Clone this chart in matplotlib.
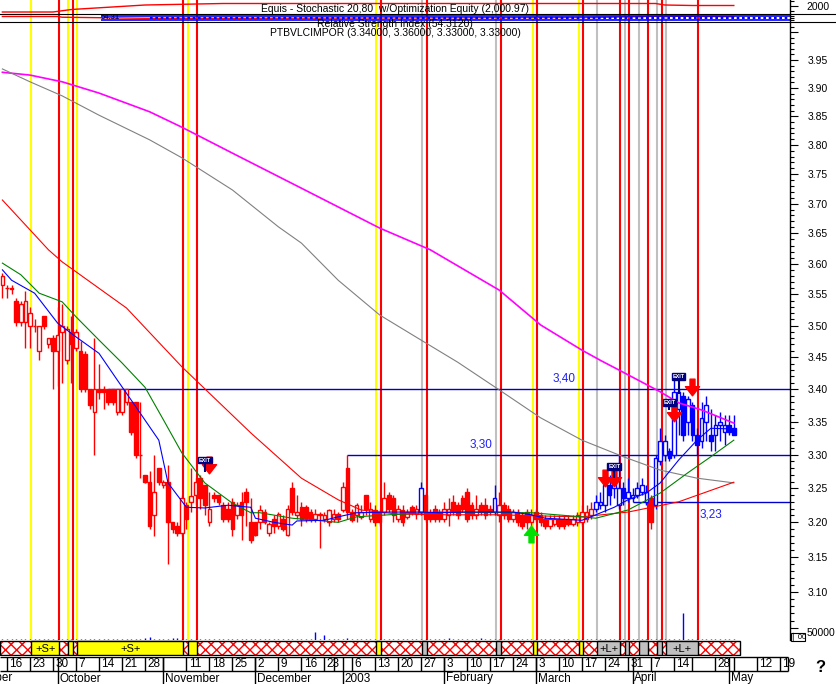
import numpy as np
import pandas as pd
import matplotlib
matplotlib.use('Agg')
import matplotlib.pyplot as plt
from matplotlib.patches import Rectangle
from matplotlib.path import Path
from matplotlib.lines import Line2D
from matplotlib.ticker import NullFormatter

plt.rcParams['font.family'] = ['Liberation Sans', 'DejaVu Sans']
plt.rcParams['hatch.linewidth'] = 1.0
plt.rcParams['hatch.color'] = '#ff0000'

# trading calendar (Lisbon closures)
holidays = ['2002-11-01', '2002-12-24', '2002-12-25', '2002-12-26',
            '2003-01-01', '2003-04-18', '2003-05-01']
dates = pd.bdate_range('2002-09-13', '2003-05-30', freq='C', holidays=holidays)

# daily OHLC, PTBVLCIMPOR
opens = [3.565, 3.560, 3.560, 3.540, 3.505, 3.505, 3.500, 3.500, 3.460, 3.515,
         3.470, 3.480, 3.460, 3.490, 3.445, 3.490, 3.465, 3.460, 3.455, 3.400,
         3.365, 3.400, 3.400, 3.400, 3.400, 3.365, 3.365, 3.380, 3.380, 3.380,
         3.300, 3.270, 3.260, 3.210, 3.280, 3.255, 3.260, 3.200, 3.195, 3.185,
         3.225, 3.230, 3.240, 3.265, 3.255, 3.200, 3.240, 3.240, 3.225, 3.220,
         3.230, 3.210, 3.230, 3.245, 3.200, 3.200, 3.200, 3.215, 3.185, 3.205,
         3.195, 3.205, 3.182, 3.250, 3.210, 3.222, 3.222, 3.215, 3.205, 3.212,
         3.205, 3.200, 3.205, 3.212, 3.218, 3.280, 3.215, 3.210, 3.208, 3.240,
         3.205, 3.218, 3.215, 3.215, 3.240, 3.235, 3.205, 3.218, 3.208, 3.222,
         3.212, 3.215, 3.240, 3.215, 3.220, 3.215, 3.205, 3.210, 3.230, 3.225,
         3.235, 3.245, 3.225, 3.210, 3.225, 3.225, 3.220, 3.215, 3.210, 3.225,
         3.220, 3.205, 3.215, 3.210, 3.215, 3.200, 3.215, 3.210, 3.205, 3.195,
         3.198, 3.205, 3.205, 3.205, 3.198, 3.200, 3.200, 3.205, 3.210, 3.220,
         3.225, 3.225, 3.255, 3.250, 3.225, 3.250, 3.235, 3.235, 3.240, 3.245,
         3.230, 3.235, 3.225, 3.290, 3.300, 3.305, 3.300, 3.370, 3.390, 3.350,
         3.375, 3.330, 3.320, 3.350, 3.330, 3.330, 3.345, 3.335, 3.345, 3.340]
highs = [3.585, 3.565, 3.565, 3.545, 3.540, 3.555, 3.530, 3.510, 3.500, 3.515,
         3.480, 3.485, 3.530, 3.535, 3.500, 3.515, 3.495, 3.475, 3.460, 3.400,
         3.480, 3.440, 3.405, 3.400, 3.400, 3.400, 3.400, 3.400, 3.380, 3.380,
         3.380, 3.270, 3.275, 3.300, 3.280, 3.262, 3.285, 3.200, 3.200, 3.240,
         3.230, 3.280, 3.265, 3.270, 3.255, 3.245, 3.245, 3.240, 3.230, 3.230,
         3.235, 3.230, 3.245, 3.250, 3.235, 3.200, 3.225, 3.220, 3.200, 3.210,
         3.215, 3.210, 3.225, 3.260, 3.240, 3.230, 3.225, 3.220, 3.220, 3.215,
         3.215, 3.220, 3.220, 3.215, 3.260, 3.300, 3.220, 3.228, 3.225, 3.240,
         3.230, 3.225, 3.220, 3.260, 3.245, 3.240, 3.225, 3.225, 3.220, 3.225,
         3.225, 3.260, 3.245, 3.220, 3.225, 3.220, 3.230, 3.235, 3.240, 3.230,
         3.240, 3.250, 3.230, 3.240, 3.230, 3.235, 3.225, 3.255, 3.245, 3.230,
         3.225, 3.220, 3.220, 3.215, 3.220, 3.220, 3.220, 3.215, 3.210, 3.210,
         3.210, 3.210, 3.210, 3.210, 3.210, 3.215, 3.225, 3.225, 3.230, 3.240,
         3.245, 3.265, 3.270, 3.285, 3.300, 3.260, 3.265, 3.250, 3.260, 3.265,
         3.255, 3.240, 3.300, 3.340, 3.330, 3.310, 3.415, 3.400, 3.395, 3.390,
         3.380, 3.340, 3.380, 3.390, 3.370, 3.360, 3.365, 3.360, 3.360, 3.360]
lows = [3.545, 3.545, 3.550, 3.500, 3.500, 3.465, 3.465, 3.490, 3.445, 3.495,
        3.465, 3.400, 3.405, 3.410, 3.440, 3.410, 3.460, 3.395, 3.395, 3.370,
        3.300, 3.385, 3.370, 3.375, 3.375, 3.360, 3.360, 3.375, 3.330, 3.295,
        3.265, 3.258, 3.190, 3.180, 3.255, 3.250, 3.140, 3.185, 3.180, 3.180,
        3.190, 3.215, 3.225, 3.220, 3.210, 3.195, 3.230, 3.225, 3.200, 3.200,
        3.180, 3.205, 3.175, 3.195, 3.170, 3.180, 3.190, 3.198, 3.180, 3.185,
        3.190, 3.188, 3.180, 3.210, 3.205, 3.195, 3.200, 3.200, 3.200, 3.163,
        3.200, 3.195, 3.200, 3.200, 3.215, 3.205, 3.200, 3.200, 3.205, 3.210,
        3.200, 3.195, 3.195, 3.210, 3.215, 3.200, 3.200, 3.195, 3.205, 3.210,
        3.205, 3.210, 3.200, 3.200, 3.200, 3.200, 3.200, 3.195, 3.210, 3.205,
        3.215, 3.200, 3.205, 3.205, 3.210, 3.205, 3.210, 3.210, 3.200, 3.205,
        3.200, 3.200, 3.195, 3.190, 3.190, 3.195, 3.200, 3.195, 3.190, 3.190,
        3.195, 3.190, 3.190, 3.195, 3.195, 3.195, 3.195, 3.200, 3.205, 3.215,
        3.220, 3.215, 3.225, 3.235, 3.220, 3.225, 3.230, 3.230, 3.235, 3.240,
        3.225, 3.190, 3.220, 3.285, 3.290, 3.290, 3.295, 3.330, 3.320, 3.330,
        3.320, 3.300, 3.310, 3.320, 3.305, 3.305, 3.320, 3.315, 3.330, 3.330]
closes = [3.580, 3.560, 3.558, 3.505, 3.535, 3.540, 3.520, 3.500, 3.500, 3.500,
          3.480, 3.460, 3.485, 3.500, 3.495, 3.470, 3.490, 3.400, 3.400, 3.375,
          3.400, 3.395, 3.395, 3.380, 3.380, 3.400, 3.400, 3.400, 3.335, 3.300,
          3.300, 3.260, 3.195, 3.245, 3.260, 3.260, 3.200, 3.190, 3.185, 3.235,
          3.205, 3.238, 3.260, 3.235, 3.225, 3.220, 3.235, 3.230, 3.205, 3.205,
          3.190, 3.225, 3.210, 3.230, 3.175, 3.182, 3.218, 3.200, 3.198, 3.195,
          3.212, 3.190, 3.220, 3.215, 3.215, 3.205, 3.207, 3.205, 3.212, 3.210,
          3.210, 3.218, 3.212, 3.205, 3.252, 3.215, 3.203, 3.225, 3.215, 3.220,
          3.220, 3.200, 3.200, 3.235, 3.220, 3.210, 3.220, 3.200, 3.215, 3.215,
          3.220, 3.250, 3.205, 3.205, 3.205, 3.205, 3.220, 3.220, 3.215, 3.210,
          3.220, 3.205, 3.210, 3.220, 3.215, 3.210, 3.215, 3.235, 3.225, 3.210,
          3.205, 3.215, 3.200, 3.195, 3.200, 3.210, 3.205, 3.200, 3.195, 3.205,
          3.205, 3.195, 3.195, 3.198, 3.205, 3.210, 3.215, 3.215, 3.220, 3.230,
          3.230, 3.255, 3.240, 3.260, 3.250, 3.235, 3.245, 3.240, 3.250, 3.255,
          3.245, 3.200, 3.295, 3.320, 3.320, 3.295, 3.395, 3.395, 3.330, 3.385,
          3.330, 3.315, 3.355, 3.375, 3.320, 3.345, 3.350, 3.345, 3.335, 3.330]
volume_k = [5, 4, 6, 5, 7, 5, 4, 6, 5, 4, 6, 5, 5, 8, 4, 5, 6, 5, 4, 6,
            5, 4, 6, 5, 4, 5, 6, 4, 5, 6, 5, 10, 18, 6, 5, 4, 6, 10, 10, 5,
            6, 5, 4, 6, 5, 4, 6, 5, 4, 5, 4, 6, 5, 4, 5, 6, 5, 4, 6, 5,
            5, 4, 6, 5, 4, 5, 6, 5, 50, 6, 30, 5, 4, 6, 8, 12, 5, 4, 6, 5,
            4, 5, 6, 5, 4, 5, 6, 8, 5, 4, 6, 7, 5, 4, 6, 5, 4, 12, 5, 6,
            5, 4, 6, 5, 12, 4, 5, 8, 6, 5, 4, 6, 5, 4, 5, 6, 4, 5, 6, 5,
            4, 5, 6, 4, 5, 6, 5, 6, 5, 7, 6, 8, 7, 6, 9, 5, 6, 7, 6, 5,
            6, 7, 6, 8, 7, 6, 9, 8, 170, 7, 6, 7, 5, 6, 5, 6, 5, 6, 5, 6]

# moving averages (bar index, value)
ma_fast_idx = [0, 2, 7, 12, 16, 21, 25, 29, 34, 36, 40, 44, 49, 54, 55, 59, 63, 64, 70,
               73, 77, 84, 91, 95, 100, 111, 115, 118, 126, 129, 133, 136, 140, 143,
               147, 151, 154, 159]
ma_fast = [3.590, 3.573, 3.552, 3.504, 3.482, 3.456, 3.414, 3.373, 3.322, 3.258,
           3.222, 3.221, 3.225, 3.222, 3.206, 3.200, 3.196, 3.202, 3.203, 3.208,
           3.214, 3.215, 3.215, 3.214, 3.215, 3.215, 3.211, 3.206, 3.203, 3.211,
           3.222, 3.233, 3.243, 3.258, 3.292, 3.322, 3.340, 3.339]
ma_mid_idx = [0, 4, 8, 13, 16, 21, 26, 31, 35, 39, 44, 50, 54, 56, 63, 73, 77, 84,
              95, 115, 126, 129, 136, 143, 149, 154, 159]
ma_mid = [3.601, 3.582, 3.552, 3.538, 3.514, 3.477, 3.441, 3.403, 3.353, 3.303,
          3.258, 3.228, 3.214, 3.214, 3.206, 3.200, 3.208, 3.211, 3.215, 3.214,
          3.208, 3.206, 3.218, 3.243, 3.273, 3.297, 3.322]
ma_slow_idx = [0, 6, 10, 13, 27, 39, 54, 65, 73, 78, 86, 97, 108, 119, 126, 136, 147, 159]
ma_slow = [3.706, 3.656, 3.623, 3.603, 3.528, 3.435, 3.333, 3.265, 3.233, 3.218,
           3.212, 3.211, 3.211, 3.209, 3.208, 3.215, 3.230, 3.259]
ma_100_idx = [0, 6, 13, 21, 32, 39, 50, 60, 65, 73, 82, 91, 99, 108, 117, 126, 135,
              143, 151, 159]
ma_100 = [3.934, 3.911, 3.886, 3.852, 3.809, 3.778, 3.723, 3.661, 3.634, 3.573,
          3.517, 3.477, 3.442, 3.399, 3.356, 3.322, 3.297, 3.277, 3.265, 3.258]
ma_200_idx = [0, 6, 13, 21, 32, 39, 50, 65, 82, 93, 108, 117, 126, 130, 134, 143,
              147, 152, 159]
ma_200 = [3.928, 3.923, 3.911, 3.891, 3.858, 3.831, 3.786, 3.726, 3.659, 3.623,
          3.557, 3.501, 3.461, 3.445, 3.430, 3.396, 3.379, 3.368, 3.348]

# system equity and RSI panels
eq_idx = [0, 11, 15, 31, 48, 142, 144, 150, 159]
equity = [1988, 1988, 1993, 2002, 2005, 2005, 2002, 2001, 2001]
rsi_idx = [0, 12, 13, 31, 56, 100, 128, 145, 159]
rsi = [62, 62, 55, 45, 45, 50, 52, 66, 60]

# trades: (entry bar, exit bar)
short_trades = [(6, 12), (14, 15), (16, 39), (40, 42), (81, 82), (115, 116), (125, 126)]
long_trades = [(91, 92), (107, 108), (129, 134), (135, 136), (138, 140), (142, 143), (144, 151)]
blue_spans = [(91, 91), (107, 107), (129, 140), (142, 159)]

# horizontal levels
levels = [3.40, 3.30, 3.23]
level_start = [23, 75, 137]
level_text = ['3,40', '3,30', '3,23']

# signal arrows / exit flags
sell_idx = [45, 131, 133, 146, 150]
sell_px = [3.285, 3.266, 3.266, 3.363, 3.404]
buy_idx = [115]
buy_px = [3.183]
exit_idx = [44, 133, 145, 147]
exit_px = [3.292, 3.282, 3.379, 3.420]
exit_stem = [3.274, 3.266, 3.368, 3.392]

# date axis
week_labels = ['16', '23', '30', '7', '14', '21', '28', '', '11', '18', '25', '2', '9',
               '16', '23', '', '6', '13', '20', '27', '3', '10', '17', '24', '3', '10',
               '17', '24', '31', '7', '14', '', '28', '', '12', '19']
month_names = ['October', 'November', 'December', '2003', 'February', 'March', 'April', 'May']

# ---------------------------------------------------------------- layout
W, H = 837, 684
X0, DX = 2.4, 4.6


def bx(px):
    return (px - X0) / DX


XMIN, XMAX = bx(0), bx(790)


def rect(x0, y0, x1, y1):
    return [x0 / W, 1 - y1 / H, (x1 - x0) / W, (y1 - y0) / H]


fig = plt.figure(figsize=(W / 100, H / 100), dpi=100)
fig.patch.set_facecolor('white')

ax_eq = fig.add_axes(rect(0, 0, 790, 13.5))
ax_rsi = fig.add_axes(rect(0, 13.5, 790, 22))
ax = fig.add_axes(rect(0, 22, 790, 640))
ax_b = fig.add_axes(rect(0, 640, 790, 656))
ax_d = fig.add_axes(rect(0, 656, 790, 684))

for a in (ax_eq, ax_rsi, ax, ax_b, ax_d):
    a.set_xlim(XMIN, XMAX)
    a.set_xticks([])
    for s in a.spines.values():
        s.set_visible(False)
    a.patch.set_alpha(0)

# volume overlay (created first: twinx moves the host ticks to the left)
ax.set_yscale('log')
ax.set_ylim(3.033, 4.019)
axv = ax.twinx()
axv.set_xlim(XMIN, XMAX)
axv.set_ylim(0, 50000 * 618 / 8)
idx = np.arange(len(closes))
axv.vlines(idx, 0, np.array(volume_k) * 1000, colors='#0000ff', lw=1, zorder=2)
axv.set_axis_off()

# signal verticals through the three upper panels
RED, YEL, GRY, BLU = '#ff0000', '#ffff00', '#c0c0c0', '#0000ff'
for a in (ax_eq, ax_rsi, ax):
    for en, ex in short_trades:
        a.axvline(en + 0.3, color=YEL, lw=1.5, zorder=1)
    for en, ex in long_trades:
        a.axvline(en + 0.3, color=GRY, lw=1.5, zorder=1)
    for en, ex in short_trades + long_trades:
        a.axvline(ex + 0.3, color=RED, lw=1.5, zorder=1)

# equity panel
ax_eq.set_ylim(1985, 2012)
ax_eq.plot(eq_idx, equity, color=RED, lw=1, zorder=3)
ax_eq.yaxis.tick_right()
ax_eq.set_yticks([2000], ['2000'])
ax_eq.set_yticks([1990, 2010], minor=True)
ax_eq.tick_params(axis='y', which='major', length=6, width=0.8, pad=6, labelsize=7.5)
ax_eq.tick_params(axis='y', which='minor', length=3, width=0.8)

# RSI panel
ax_rsi.set_ylim(10, 90)
ax_rsi.plot(rsi_idx, rsi, color=RED, lw=1, zorder=2)
ax_rsi.hlines([70, 30], bx(101), XMAX, color=BLU, lw=1.2, zorder=3)
ax_rsi.hlines([50], bx(150), XMAX, color=BLU, lw=1.6, linestyles=[(0, (1.2, 1.2))], zorder=3)
ax_rsi.text(bx(101), 50, '54.31', fontsize=5.5, fontweight='bold', color='#000080',
            va='center', ha='left', zorder=4)
ax_rsi.yaxis.tick_right()
ax_rsi.set_yticks([])
ax_rsi.set_yticks([30, 50, 70], minor=True)
ax_rsi.tick_params(axis='y', which='minor', length=3, width=0.8)

# main price panel (semi-log)
o, hi, lo, c = map(np.array, (opens, highs, lows, closes))
blue = np.zeros(len(idx), bool)
for a0, a1 in blue_spans:
    blue[a0:a1 + 1] = True
col = np.where(blue, BLU, RED)
face = np.where(c >= o, 'white', col)

for lv, st in zip(levels, level_start):
    ax.hlines(lv, st, XMAX, color='#0000cc', lw=1, zorder=2)
ax.text(122, levels[0] * 1.002, level_text[0], color='#2020ff', fontsize=8.5, ha='center', va='bottom', zorder=7)
ax.text(104, levels[1] * 1.002, level_text[1], color='#2020ff', fontsize=8.5, ha='center', va='bottom', zorder=7)
ax.text(154, levels[2] * 0.997, level_text[2], color='#2020ff', fontsize=8.5, ha='center', va='top', zorder=7)

ax.vlines(idx, lo, hi, colors=col, lw=1.0, zorder=3)
ax.bar(idx, np.abs(c - o), bottom=np.minimum(o, c), width=0.78, color=face,
       edgecolor=col, linewidth=1.0, zorder=4)

ax.plot(ma_200_idx, ma_200, color='#ff00ff', lw=1.2, zorder=5)
ax.plot(ma_100_idx, ma_100, color='#808080', lw=0.8, zorder=5)
ax.plot(ma_slow_idx, ma_slow, color=RED, lw=0.8, zorder=5)
ax.plot(ma_mid_idx, ma_mid, color='#008000', lw=0.8, zorder=5)
ax.plot(ma_fast_idx, ma_fast, color=BLU, lw=0.8, zorder=5)

# arrows and exit flags
down_arrow = Path([(-0.3, 1), (0.3, 1), (0.3, 0.1), (0.85, 0.1), (0, -1),
                   (-0.85, 0.1), (-0.3, 0.1), (-0.3, 1)], closed=True)
up_arrow = Path([(x, -y) for x, y in down_arrow.vertices], closed=True)
ax.plot(sell_idx, sell_px, ls='none', marker=down_arrow, ms=12, color=RED, zorder=6)
ax.plot(buy_idx, buy_px, ls='none', marker=up_arrow, ms=12, color='#00e000', zorder=6)
ax.vlines(exit_idx, exit_stem, exit_px, color='#000080', lw=1.5, zorder=6)
for i, p in zip(exit_idx, exit_px):
    ax.text(i, p, 'EXIT', fontsize=4, color='white', fontweight='bold', ha='center',
            va='center', zorder=7,
            bbox=dict(boxstyle='square,pad=0.15', fc='#000080', ec='#000080'))

ax.yaxis.tick_right()
major_vals = np.round(np.arange(3.05, 4.001, 0.05), 2)
ax.set_yticks(major_vals, [f'{v:.2f}' if 3.09 < v < 3.96 else '' for v in major_vals])
ax.set_yticks(np.round(np.arange(3.04, 4.02, 0.01), 2), minor=True)
ax.yaxis.set_minor_formatter(NullFormatter())
ax.tick_params(axis='y', which='major', length=6, width=0.8, pad=7, labelsize=7.5,
               left=False, labelleft=False, right=True, labelright=True)
ax.tick_params(axis='y', which='minor', length=3, width=0.8, left=False, right=True)

# position band
ax_b.set_ylim(656, 640)
ax_b.set_yticks([])
band_end = len(closes) - 1 + 1.3
ax_b.add_patch(Rectangle((XMIN, 641), band_end - XMIN, 14, facecolor='white',
                         edgecolor='#ff0000', hatch='xxx', lw=0))
ax_b.add_patch(Rectangle((XMIN, 641), band_end - XMIN, 14, fill=False, edgecolor='black', lw=1))
for trades, fc, tag in ((short_trades, YEL, '+S+'), (long_trades, GRY, '+L+')):
    for en, ex in trades:
        ax_b.add_patch(Rectangle((en + 0.3, 641), ex - en, 14, facecolor=fc,
                                 edgecolor='black', lw=1, zorder=3))
        if ex - en >= 5:
            ax_b.text((en + ex) / 2 + 0.3, 648.5, tag, fontsize=8, ha='center',
                      va='center', zorder=4)

# date rows
ax_d.set_ylim(684, 656)
ax_d.set_yticks([])
row_end = bx(788)
ax_d.hlines([656.5, 671], XMIN, row_end, color='black', lw=1)
ax_d.vlines(row_end, 656.5, 671, color='black', lw=1)
week_pos = [i for i in range(1, len(dates)) if dates[i].weekday() < dates[i - 1].weekday()]
month_pos = [i for i in range(1, len(dates)) if dates[i].month != dates[i - 1].month]
week_pos = week_pos[:len(week_labels)]
month_pos = month_pos[:len(month_names)]
ax_d.vlines(week_pos + month_pos, 656.5, 671, color='black', lw=1)
for p, lab in zip(week_pos, week_labels):
    ax_d.text(p + 0.55, 664, lab, fontsize=8.5, ha='left', va='center')
ax_d.vlines(month_pos, 671, 684, color='black', lw=1)
for p, lab in zip(month_pos, month_names):
    ax_d.text(p + 0.4, 678.5, lab, fontsize=8.5, ha='left', va='center')
t = ax_d.text(bx(13), 678.5, 'September', fontsize=8.5, ha='right', va='center')
t.set_clip_on(True)

# header texts
fig.text(395 / W, 1 - 9 / H, 'Equis - Stochastic 20,80  w/Optimization Equity (2,000.97)',
         ha='center', va='center', fontsize=7.5)
fig.text(395 / W, 1 - 24 / H, 'Relative Strength Index (54.3120)',
         ha='center', va='center', fontsize=7.5)
fig.text(395 / W, 1 - 32.5 / H, 'PTBVLCIMPOR (3.34000, 3.36000, 3.33000, 3.33000)',
         ha='center', va='center', fontsize=7.5)

# panel separators and right axis line
for y in (13.5, 22):
    fig.add_artist(Line2D([0, 1], [1 - y / H] * 2, color='black', lw=0.8))
fig.add_artist(Line2D([790 / W] * 2, [1 - 640 / H, 1], color='black', lw=1))

# volume scale label and help mark
fig.text(807 / W, 1 - 633 / H, '50000', fontsize=7.5, ha='left', va='center')
fig.add_artist(Rectangle((791 / W, 1 - 641 / H), 14 / W, 8 / H, transform=fig.transFigure,
                         facecolor='white', edgecolor='black', lw=0.8))
fig.text(792 / W, 1 - 637 / H, '\u258f00', fontsize=5.5, ha='left', va='center')
fig.text(820 / W, 1 - 668 / H, '?', fontsize=12, fontweight='bold', ha='center', va='center')

fig.savefig('out.png', dpi=100)
